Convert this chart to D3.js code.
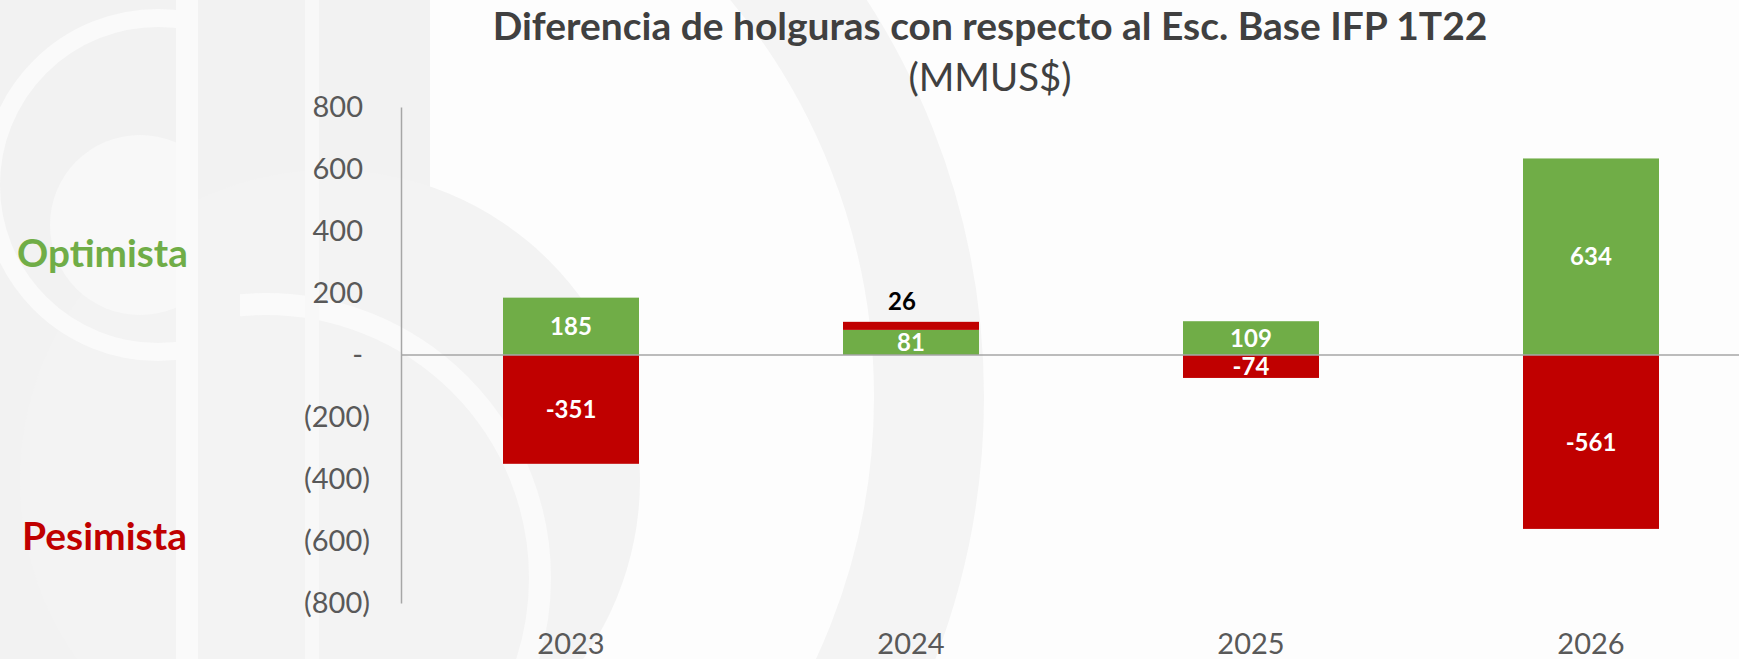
<!DOCTYPE html>
<html>
<head>
<meta charset="utf-8">
<script src="https://cdn.jsdelivr.net/npm/d3@7"></script>
<style>
  html, body { margin: 0; padding: 0; background: #fdfdfd; }
  svg { display: block; }
  text { font-family: Lato, "Open Sans", sans-serif; }
</style>
</head>
<body>
<svg id="chart" width="1739" height="659"></svg>
<script>
// Categories and series (MMUS$)
const years = ["2023", "2024", "2025", "2026"];
const optimista = [185, 81, 109, 634];
const pesimista = [-351, 26, -74, -561];
const yTicks = [800, 600, 400, 200, 0, -200, -400, -600, -800];
const titleText = "Diferencia de holguras con respecto al Esc. Base IFP 1T22";
const unitText = "(MMUS$)";
const sideLabels = ["Optimista", "Pesimista"];

const W = 1739, H = 659;
const GREEN = "#70AD47", RED = "#C00000";
const svg = d3.select("#chart");

// ---- faint logo watermark in the background ----
const defs = svg.append("defs");
defs.append("clipPath").attr("id", "clipLeftBowl")
  .append("rect").attr("x", 0).attr("y", 0).attr("width", 190).attr("height", H);
defs.append("clipPath").attr("id", "clipRightBowl")
  .append("rect").attr("x", 240).attr("y", 0).attr("width", W).attr("height", H);

const wm = svg.append("g").attr("class", "watermark");
wm.append("rect").attr("width", W).attr("height", H).attr("fill", "#fdfdfd");
wm.append("rect").attr("x", 0).attr("y", 0).attr("width", 430).attr("height", H).attr("fill", "#f2f2f2");
wm.append("circle").attr("cx", 330).attr("cy", 480).attr("r", 310).attr("fill", "#f3f3f3");
wm.append("circle").attr("cx", 254).attr("cy", 397).attr("r", 675)
  .attr("fill", "none").attr("stroke", "#f4f4f4").attr("stroke-width", 110);
wm.append("circle").attr("cx", 140).attr("cy", 225).attr("r", 90)
  .attr("fill", "#f8f8f8").attr("clip-path", "url(#clipLeftBowl)");
wm.append("circle").attr("cx", 158).attr("cy", 185).attr("r", 167)
  .attr("fill", "none").attr("stroke", "#fafafa").attr("stroke-width", 18)
  .attr("clip-path", "url(#clipLeftBowl)");
wm.append("circle").attr("cx", 266).attr("cy", 578).attr("r", 274)
  .attr("fill", "none").attr("stroke", "#fafafa").attr("stroke-width", 22)
  .attr("clip-path", "url(#clipRightBowl)");
wm.append("rect").attr("x", 176).attr("y", 0).attr("width", 22).attr("height", H).attr("fill", "#fafafa");
wm.append("rect").attr("x", 305).attr("y", 0).attr("width", 14).attr("height", H).attr("fill", "#f8f8f8");

// ---- scales ----
const x = d3.scaleBand().domain(years).range([401, 1761]).paddingInner(0.6).paddingOuter(0.3);
const y = d3.scaleLinear().domain([-800, 800]).range([603, 107]);

// ---- stacked series (positives stack upward, negatives downward) ----
const rows = years.map((yr, i) => ({ year: yr, optimista: optimista[i], pesimista: pesimista[i] }));
const stack = d3.stack().keys(["optimista", "pesimista"]).offset(d3.stackOffsetDiverging);
const series = stack(rows);
const colors = { optimista: GREEN, pesimista: RED };

const barsG = svg.append("g");
series.forEach(s => {
  barsG.append("g").attr("fill", colors[s.key])
    .selectAll("rect").data(s).join("rect")
    .attr("x", d => x(d.data.year))
    .attr("width", x.bandwidth())
    .attr("y", d => y(d[1]))
    .attr("height", d => y(d[0]) - y(d[1]));
});

// ---- axes ----
const fmt = d3.format(",");
const yAxis = d3.axisLeft(y)
  .tickValues(yTicks)
  .tickSize(0)
  .tickPadding(38)
  .tickFormat(v => v === 0 ? "-" : v < 0 ? `(${fmt(-v)})` : fmt(v));
const yG = svg.append("g").attr("transform", "translate(401,0)").call(yAxis);
yG.select(".domain").attr("stroke", "#a6a6a6").attr("stroke-width", 1.5);
yG.selectAll(".tick text")
  .attr("font-size", 29)
  .attr("fill", "#595959")
  .attr("dx", d => d < 0 ? 7 : 0);

// horizontal zero line
svg.append("line")
  .attr("x1", 401).attr("x2", W)
  .attr("y1", y(0)).attr("y2", y(0))
  .attr("stroke", "#a6a6a6").attr("stroke-width", 1.5);

const xAxis = d3.axisBottom(x).tickSize(0).tickPadding(0);
const xG = svg.append("g").attr("transform", "translate(0,633)").call(xAxis);
xG.select(".domain").remove();
xG.selectAll(".tick text").attr("font-size", 29).attr("fill", "#595959");

// ---- value labels ----
const labG = svg.append("g").attr("font-weight", 700).attr("font-size", 24).attr("text-anchor", "middle");
series.forEach(s => {
  s.forEach(d => {
    const v = d.data[s.key];
    const h = y(d[0]) - y(d[1]);
    const cx = x(d.data.year) + x.bandwidth() / 2;
    if (h >= 20) {
      labG.append("text")
        .attr("x", cx).attr("y", (y(d[0]) + y(d[1])) / 2)
        .attr("dy", "0.36em")
        .attr("fill", "#ffffff")
        .text(v);
    } else {
      // too thin to hold its label: place it just above the segment
      labG.append("text")
        .attr("x", cx - 9).attr("y", y(d[1]) - 20)
        .attr("dy", "0.36em")
        .attr("fill", "#000000")
        .text(v);
    }
  });
});

// ---- titles and side labels ----
function fitWidth(sel, target) {
  const w = sel.node().getComputedTextLength();
  const fs = parseFloat(sel.attr("font-size"));
  sel.attr("font-size", fs * target / w);
  return sel;
}

fitWidth(svg.append("text")
  .attr("x", 990).attr("y", 40)
  .attr("text-anchor", "middle")
  .attr("font-weight", 700).attr("font-size", 36)
  .attr("fill", "#404040")
  .text(titleText), 995);

fitWidth(svg.append("text")
  .attr("x", 990).attr("y", 91)
  .attr("text-anchor", "middle")
  .attr("font-size", 32)
  .attr("fill", "#404040")
  .text(unitText), 163);

fitWidth(svg.append("text")
  .attr("x", 17).attr("y", 267)
  .attr("font-weight", 700).attr("font-size", 38)
  .attr("fill", GREEN)
  .text(sideLabels[0]), 171);

fitWidth(svg.append("text")
  .attr("x", 22).attr("y", 550)
  .attr("font-weight", 700).attr("font-size", 38)
  .attr("fill", RED)
  .text(sideLabels[1]), 165);
</script>
</body>
</html>
